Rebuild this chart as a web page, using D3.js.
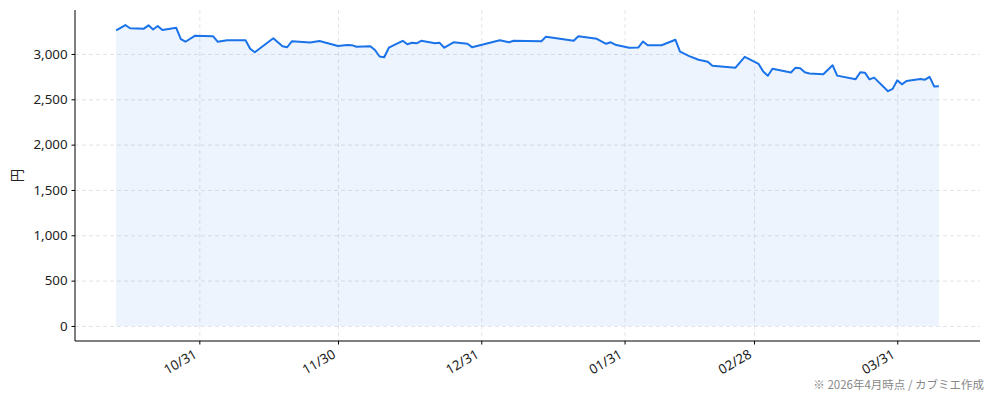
<!DOCTYPE html>
<html>
<head>
<meta charset="utf-8">
<script src="https://cdn.jsdelivr.net/npm/d3@7"></script>
<style>
  body { margin: 0; background: #fff; }
  svg { display: block; font-family: "Noto Sans CJK JP", "Noto Sans", sans-serif; }
  .grid line { stroke: #dcdce4; stroke-dasharray: 4,3; stroke-width: 0.8; }
  .grid .domain { display: none; }
  .axis text { fill: #222; font-size: 13.3px; font-family: "Noto Sans", "Noto Sans CJK JP", sans-serif; }
  .axis line, .axis path { stroke: #000; }
</style>
</head>
<body>
<svg id="chart"></svg>
<script>
// closing prices (yen)
const dates = [
  '2025-10-13','2025-10-15','2025-10-16','2025-10-19','2025-10-20','2025-10-21','2025-10-22','2025-10-23',
  '2025-10-26','2025-10-27','2025-10-28','2025-10-30','2025-11-03','2025-11-04','2025-11-06','2025-11-10',
  '2025-11-11','2025-11-12','2025-11-16','2025-11-18','2025-11-19','2025-11-20','2025-11-24','2025-11-26',
  '2025-11-30','2025-12-02','2025-12-03','2025-12-04','2025-12-07','2025-12-08','2025-12-09','2025-12-10',
  '2025-12-11','2025-12-14','2025-12-15','2025-12-16','2025-12-17','2025-12-18','2025-12-21','2025-12-22',
  '2025-12-23','2025-12-25','2025-12-28','2025-12-29','2026-01-04','2026-01-06','2026-01-07','2026-01-13',
  '2026-01-14','2026-01-20','2026-01-21','2026-01-25','2026-01-27','2026-01-28','2026-01-29','2026-02-01',
  '2026-02-03','2026-02-04','2026-02-05','2026-02-08','2026-02-11','2026-02-12','2026-02-14','2026-02-16',
  '2026-02-18','2026-02-19','2026-02-24','2026-02-26','2026-03-01','2026-03-02','2026-03-03','2026-03-04',
  '2026-03-08','2026-03-09','2026-03-10','2026-03-11','2026-03-12','2026-03-15','2026-03-17','2026-03-18',
  '2026-03-22','2026-03-23','2026-03-24','2026-03-25','2026-03-26','2026-03-29','2026-03-30','2026-03-31',
  '2026-04-01','2026-04-02','2026-04-05','2026-04-06','2026-04-07','2026-04-08','2026-04-09'
];
const prices = [
  3259, 3319, 3284, 3279, 3316, 3270, 3308, 3264,
  3289, 3163, 3135, 3200, 3195, 3134, 3152, 3151,
  3058, 3019, 3173, 3086, 3074, 3140, 3127, 3143,
  3088, 3099, 3097, 3080, 3086, 3044, 2972, 2964,
  3069, 3145, 3107, 3123, 3118, 3145, 3119, 3123,
  3069, 3129, 3112, 3075, 3152, 3129, 3145, 3141,
  3191, 3146, 3195, 3167, 3112, 3129, 3102, 3068,
  3072, 3138, 3096, 3096, 3157, 3025, 2976, 2936,
  2915, 2870, 2849, 2969, 2890, 2807, 2760, 2837,
  2796, 2849, 2843, 2798, 2785, 2776, 2876, 2761,
  2722, 2799, 2794, 2719, 2739, 2589, 2615, 2709,
  2665, 2702, 2724, 2716, 2747, 2640, 2644
];
const tickDates = ['2025-10-31','2025-11-30','2025-12-31','2026-01-31','2026-02-28','2026-03-31'];
const tickLabels = ['10/31','11/30','12/31','01/31','02/28','03/31'];
const yTicks = [0, 500, 1000, 1500, 2000, 2500, 3000];

const W = 994, H = 401;
const margin = { top: 10, right: 14, bottom: 60, left: 75 };
const w = W - margin.left - margin.right;
const h = H - margin.top - margin.bottom;

const parse = d3.timeParse('%Y-%m-%d');
const data = dates.map((d, i) => ({ date: parse(d), price: prices[i] }));

const svg = d3.select('#chart').attr('width', W).attr('height', H);
const g = svg.append('g').attr('transform', `translate(${margin.left},${margin.top})`);

// 5% padding on both axes like matplotlib's default margins
const [x0, x1] = d3.extent(data, d => d.date);
const xPad = (x1 - x0) * 0.05;
const x = d3.scaleTime()
  .domain([new Date(+x0 - xPad), new Date(+x1 + xPad)])
  .range([0, w]);

const yMax = d3.max(prices);
const y = d3.scaleLinear()
  .domain([-yMax * 0.05, yMax * 1.05])
  .range([h, 0]);

const tickX = tickDates.map(parse);

// grid
g.append('g').attr('class', 'grid')
  .call(d3.axisLeft(y).tickValues(yTicks).tickSize(-w).tickFormat(''));
g.append('g').attr('class', 'grid')
  .call(d3.axisBottom(x).tickValues(tickX).tickSize(h).tickFormat(''));

// fill + line
const area = d3.area().x(d => x(d.date)).y0(y(0)).y1(d => y(d.price));
const line = d3.line().x(d => x(d.date)).y(d => y(d.price));

g.append('path').datum(data)
  .attr('d', area)
  .attr('fill', '#1a73e8')
  .attr('fill-opacity', 0.08);

g.append('path').datum(data)
  .attr('d', line)
  .attr('fill', 'none')
  .attr('stroke', '#1a73e8')
  .attr('stroke-width', 2)
  .attr('stroke-linejoin', 'round');

// axes
const yAxis = g.append('g').attr('class', 'axis')
  .call(d3.axisLeft(y).tickValues(yTicks).tickFormat(d3.format(',')).tickSize(3.5).tickPadding(4).tickSizeOuter(0));
yAxis.select('.domain').attr('d', `M0,${h}V0`);

const xAxis = g.append('g').attr('class', 'axis')
  .attr('transform', `translate(0,${h})`)
  .call(d3.axisBottom(x).tickValues(tickX).tickSize(3.5).tickSizeOuter(0).tickFormat(''));
xAxis.select('.domain').attr('d', `M0,0H${w}`);

xAxis.selectAll('.tick').append('text')
  .attr('transform', 'translate(-2,16) rotate(-30)')
  .attr('text-anchor', 'end')
  .attr('fill', '#222')
  .text((d, i) => tickLabels[i]);

// y label
svg.append('text')
  .attr('transform', `translate(22,${margin.top + h / 2}) rotate(-90)`)
  .attr('text-anchor', 'middle')
  .attr('font-size', 13.5)
  .attr('fill', '#222')
  .text('円');

// source note
svg.append('text')
  .attr('x', 984).attr('y', 389)
  .attr('text-anchor', 'end')
  .attr('font-size', 11.5)
  .attr('fill', '#888')
  .text('※ 2026年4月時点 / カブミエ作成');
</script>
</body>
</html>
